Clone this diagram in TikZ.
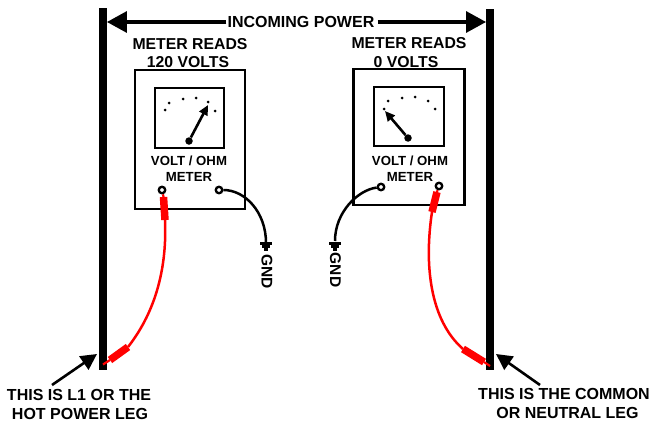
\documentclass[tikz,border=0pt]{standalone}
\usepackage{fontspec}
\setmainfont{Liberation Sans}
\usetikzlibrary{arrows.meta, positioning}

\begin{document}
\begin{tikzpicture}[x=1pt, y=-1pt,
        bar/.style={fill=black, minimum width=7.5pt, inner sep=0pt},
        meterbox/.style={draw, line width=2.1pt, inner sep=0pt},
        jack/.style={circle, draw, line width=2.3pt, fill=white, minimum size=6.5pt, inner sep=0pt},
        pivot/.style={circle, fill=black, minimum size=7.5pt, inner sep=0pt},
        lbl/.style={font=\bfseries\fontsize{15.8}{18}\selectfont, inner sep=0pt, align=center},
        metertxt/.style={font=\bfseries\fontsize{13.2}{15}\selectfont, inner sep=0pt},
        gndtxt/.style={font=\bfseries\fontsize{15.5}{17}\selectfont, inner sep=0pt},
        bigtxt/.style={font=\bfseries\fontsize{16}{18}\selectfont, inner sep=0pt},
        span/.style={-{Triangle[length=20pt, width=21pt]}, line width=3.2pt},
        pointer/.style={-{Triangle[length=16pt, width=16pt]}, line width=2.6pt},
        needle/.style={-{Triangle[length=10pt, width=9pt]}, line width=2.6pt},
        probe/.style={red, line width=7.5pt},
        tip/.style={red, line width=2.2pt},
        redwire/.style={red, line width=2.5pt},
        blackwire/.style={line width=2.5pt},
        gndbar/.style={line width=2.4pt}
      ]
        \useasboundingbox (0,0) rectangle (649,423);

        % power legs
        \node[bar, minimum height=362pt] (legl) at (103,189) {};
        \node[bar, minimum height=361pt] (legr) at (490,189.5) {};
        \node[bigtxt] (power) at (301,22) {INCOMING POWER};
        \draw[span] (power.west) ++(-1,0) -- (legl.east |- power);
        \draw[span] (power.east) ++(3,0) -- (legr.west |- power);

        % left meter
        \node[lbl] (readl) at (190,44) {METER READS};
        \node[lbl] (voltsl) at (188,62) {120 VOLTS};
        \node[meterbox, minimum width=110pt, minimum height=139pt] (boxl) at (190,139.5) {};
        \node[meterbox, minimum width=69pt, minimum height=60pt] (diall) at (189.5,118) {};
        \node[pivot] (pivl) at (189,141) {};
        \coordinate (tipl) at (208,105);
        \draw[needle] (pivl) -- (tipl);
        \fill (165,110) circle (1.5) (169,103) circle (1.5) (183,99) circle (1.5)
              (196,98) circle (1.5) (208,102) circle (1.5) (215,111) circle (1.5);
        \node[metertxt] (voml) at (189,161) {VOLT / OHM};
        \node[metertxt] (mtrl) at (189,177) {METER};
        \node[jack] (jackla) at (162,190) {};
        \node[jack] (jacklb) at (219,190) {};

        % right meter
        \node[lbl] (readr) at (409,43) {METER READS};
        \node[lbl] (voltsr) at (406,62) {0 VOLTS};
        \node[meterbox, minimum width=111pt, minimum height=136pt] (boxr) at (409,137) {};
        \node[meterbox, minimum width=70pt, minimum height=59pt] (dialr) at (409,116.5) {};
        \node[pivot] (pivr) at (408,138) {};
        \coordinate (tipr) at (385,111);
        \draw[needle] (pivr) -- (tipr);
        \fill (384,109) circle (1.5) (388,101) circle (1.5) (402,98) circle (1.5)
              (415,97) circle (1.5) (428,101) circle (1.5) (435,109) circle (1.5);
        \node[metertxt] (vomr) at (410,161) {VOLT / OHM};
        \node[metertxt] (mtrr) at (410,177) {METER};
        \node[jack] (jackra) at (381,187) {};
        \node[jack] (jackrb) at (439,186) {};

        % red test leads
        \coordinate (pla) at (163.5,197);
        \coordinate (plb) at (165,220);
        \coordinate (plc) at (128,347);
        \coordinate (pld) at (110,360);
        \coordinate (ple) at (103,364.5);
        \draw[tip] (jackla) -- (pla);
        \draw[probe] (pla) -- (plb);
        \draw[redwire] (plb) .. controls (167,265) and (157,310) .. (plc);
        \draw[probe] (plc) -- (pld);
        \draw[tip] (pld) -- (ple);

        \coordinate (pra) at (437,192);
        \coordinate (prb) at (432,212);
        \coordinate (prc) at (463,349);
        \coordinate (prd) at (484,362);
        \coordinate (pre) at (490,366);
        \draw[tip] (jackrb) -- (pra);
        \draw[probe] (pra) -- (prb);
        \draw[redwire] (prb) .. controls (424,265) and (430,320) .. (prc);
        \draw[probe] (prc) -- (prd);
        \draw[tip] (prd) -- (pre);

        % ground leads
        \coordinate (gndl) at (266,243);
        \coordinate (gndr) at (335,241);
        \draw[blackwire] (jacklb) .. controls (245,190) and (266,212) .. (gndl);
        \draw[blackwire] (jackra) .. controls (358,190) and (335,212) .. (gndr);
        \draw[gndbar] (260,243.5) -- (272,243.5) (262,246.5) -- (270,246.5) (264,249.5) -- (268,249.5);
        \draw[gndbar] (329,243.5) -- (341,243.5) (331,246.5) -- (339,246.5) (333,249.5) -- (337,249.5);
        \node[gndtxt, rotate=-90] (gndtxtl) at (267,271.5) {GND};
        \node[gndtxt, rotate=-90] (gndtxtr) at (335.5,270) {GND};

        % callouts
        \node[bigtxt] (hota) at (79,395) {THIS IS L1 OR THE};
        \node[bigtxt] (hotb) at (80,414) {HOT POWER LEG};
        \node[bigtxt] (neua) at (564,394) {THIS IS THE COMMON};
        \node[bigtxt] (neub) at (567.5,413) {OR NEUTRAL LEG};
        \coordinate (hotfrom) at (52,385);
        \coordinate (hotto) at (97,354);
        \coordinate (neufrom) at (540,385);
        \coordinate (neuto) at (496,354);
        \draw[pointer] (hotfrom) -- (hotto);
        \draw[pointer] (neufrom) -- (neuto);
      \end{tikzpicture}
\end{document}
